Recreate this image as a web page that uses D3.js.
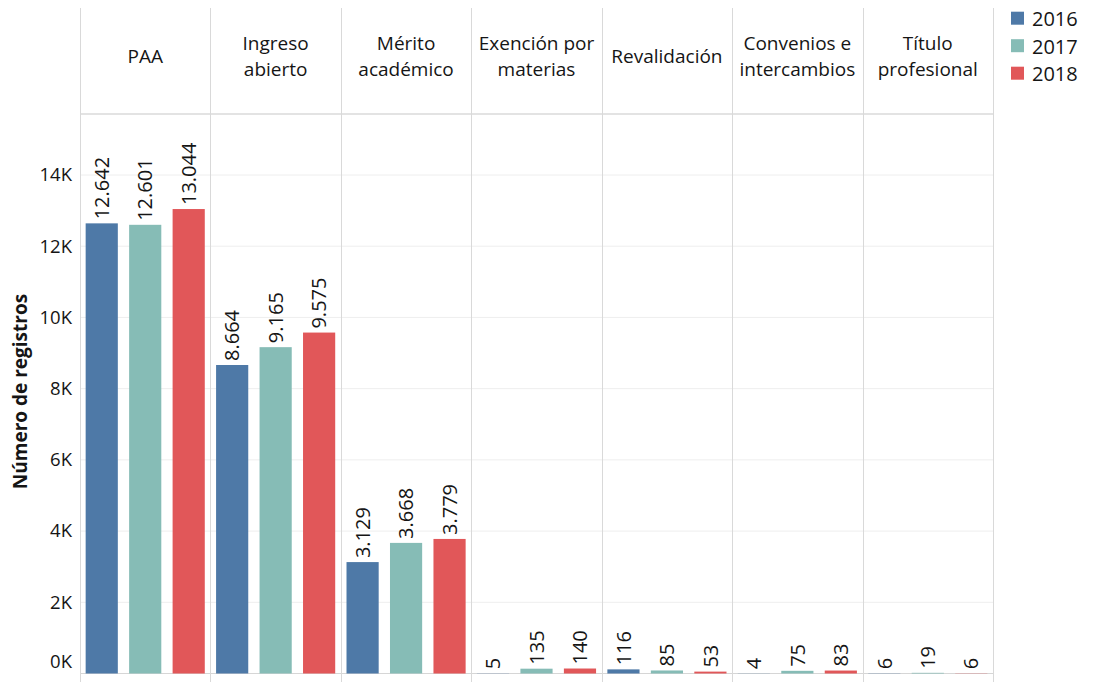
<!DOCTYPE html>
<html><head><meta charset="utf-8">
<script src="https://cdn.jsdelivr.net/npm/d3@7"></script>
<style>
html,body{margin:0;padding:0;background:#fff;}
svg{display:block;font-family:"Open Sans",sans-serif;}
</style></head>
<body><svg id="c" width="1095" height="682"></svg>
<script>
const categories = [["PAA"],["Ingreso","abierto"],["Mérito","académico"],["Exención por","materias"],["Revalidación"],["Convenios e","intercambios"],["Título","profesional"]];
const years = ["2016","2017","2018"];
const v2016 = [12642, 8664, 3129, 5, 116, 4, 6];
const v2017 = [12601, 9165, 3668, 135, 85, 75, 19];
const v2018 = [13044, 9575, 3779, 140, 53, 83, 6];
const colors = ["#4e79a7","#86bcb6","#e15759"];
const yTicks = [0,2000,4000,6000,8000,10000,12000,14000];

const series = [v2016, v2017, v2018];
const svg = d3.select("#c");
const L = 80, R = 993, headTop = 8, headBot = 114, base = 673.5, H = 682;
const TXT = "#151515";
const catKeys = categories.map((c,i)=>i);
const x0 = d3.scaleBand().domain(catKeys).range([L,R]).padding(0);
const x1 = d3.scaleBand().domain(years).range([0,x0.bandwidth()]).paddingInner(0.26).paddingOuter(0.13);
const y = d3.scaleLinear().domain([0,14000]).range([base,175]);
const loc = d3.formatLocale({decimal:",",thousands:".",grouping:[3],currency:["",""]});
const fmt = loc.format(",d");

// gridlines
svg.append("g").selectAll("line").data(yTicks.filter(d=>d>0)).join("line")
  .attr("x1",L).attr("x2",R).attr("y1",d=>y(d)).attr("y2",d=>y(d))
  .attr("stroke","#eeeeee").attr("stroke-width",1);

// header separator
svg.append("line").attr("x1",L).attr("x2",R).attr("y1",headBot).attr("y2",headBot)
  .attr("stroke","#e3e3e3").attr("stroke-width",2);
// baseline
svg.append("line").attr("x1",L).attr("x2",R).attr("y1",base).attr("y2",base)
  .attr("stroke","#d6d6d6").attr("stroke-width",1.2);
// vertical panel lines
const vx = catKeys.map(k=>x0(k)).concat([R]);
svg.append("g").selectAll("line").data(vx).join("line")
  .attr("x1",d=>Math.round(d)+0.5).attr("x2",d=>Math.round(d)+0.5).attr("y1",headTop).attr("y2",H)
  .attr("stroke","#d9d9d9").attr("stroke-width",1);

// headers
const hg = svg.append("g").selectAll("text").data(categories).join("text")
  .attr("text-anchor","middle").attr("font-size",19).attr("fill",TXT)
  .attr("x",(d,i)=>x0(i)+x0.bandwidth()/2);
hg.each(function(d){
  const t = d3.select(this);
  const y0 = d.length===1 ? 62.5 : 49.5;
  d.forEach((s,j)=>t.append("tspan").attr("x",t.attr("x")).attr("y",y0+j*26).text(s));
});

// y axis
const yAxis = d3.axisLeft(y).tickValues(yTicks).tickSize(0).tickPadding(0)
  .tickFormat(d=>(d/1000)+"K");
const ag = svg.append("g").attr("transform","translate(72,0)").call(yAxis);
ag.select(".domain").remove();
ag.selectAll("text").attr("font-size",18.5).attr("font-family","Open Sans").attr("fill",TXT)
  .attr("dy",d=>d===0?"-0.35em":"0.32em");

svg.append("text").attr("transform","translate(27,391.5) rotate(-90)")
  .attr("text-anchor","middle").attr("font-size",19).attr("font-weight","bold").attr("fill",TXT)
  .text("Número de registros");

// bars
const data = [];
categories.forEach((c,i)=>years.forEach((yr,j)=>data.push({i,yr,j,v:series[j][i]})));
svg.append("g").selectAll("rect").data(data).join("rect")
  .attr("x",d=>x0(d.i)+x1(d.yr)).attr("width",x1.bandwidth())
  .attr("y",d=>y(d.v)).attr("height",d=>base-y(d.v)).attr("fill",d=>colors[d.j]);

// value labels
svg.append("g").selectAll("text").data(data).join("text")
  .attr("transform",d=>`translate(${x0(d.i)+x1(d.yr)+x1.bandwidth()/2},${y(d.v)-4}) rotate(-90)`)
  .attr("dy","0.36em").attr("font-size",20).attr("fill",TXT)
  .text(d=>fmt(d.v));

// legend
const lg = svg.append("g").selectAll("g").data(years).join("g")
  .attr("transform",(d,i)=>`translate(1011,${11.7+i*27.5})`);
lg.append("rect").attr("width",13).attr("height",13).attr("fill",(d,i)=>colors[i]);
lg.append("text").attr("x",21).attr("y",14.3).attr("font-size",20).attr("fill",TXT).text(d=>d);
</script></body></html>
